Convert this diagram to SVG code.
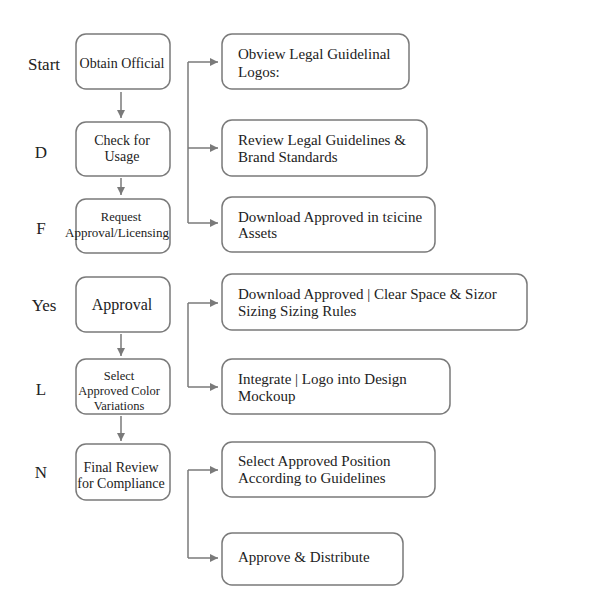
<svg xmlns="http://www.w3.org/2000/svg" width="600" height="600" viewBox="0 0 600 600">
<defs>
<marker id="ah" viewBox="0 0 10 10" refX="10" refY="5" markerWidth="5.5" markerHeight="5.5" orient="auto-start-reverse"><path d="M0,0 L10,5 L0,10 z" fill="#7a7a7a"/></marker>
<style>
.box{fill:#fff;stroke:#7a7a7a;stroke-width:1.5}
.t{font-family:"Liberation Serif","DejaVu Serif",serif;fill:#222}
.c{text-anchor:middle}
.lbl{font-family:"Liberation Serif","DejaVu Serif",serif;fill:#222;font-size:17px;text-anchor:middle}
.ln{fill:none;stroke:#7a7a7a;stroke-width:1.5}
</style>
</defs>
<rect width="600" height="600" fill="#fff"/>
<g id="labels">
<text class="lbl" x="44" y="70">Start</text>
<text class="lbl" x="41" y="158">D</text>
<text class="lbl" x="41" y="234">F</text>
<text class="lbl" x="44" y="311">Yes</text>
<text class="lbl" x="41" y="395">L</text>
<text class="lbl" x="41" y="478">N</text>
</g>
<g id="connectors">
<path class="ln" marker-end="url(#ah)" d="M121,92 L121,118"/>
<path class="ln" marker-end="url(#ah)" d="M121,178 L121,195"/>
<path class="ln" marker-end="url(#ah)" d="M121,334 L121,356"/>
<path class="ln" marker-end="url(#ah)" d="M121,416 L121,441"/>
<path class="ln" d="M188,62 L188,223"/>
<path class="ln" marker-end="url(#ah)" d="M188,62 L218,62"/>
<path class="ln" marker-end="url(#ah)" d="M188,148 L218,148"/>
<path class="ln" marker-end="url(#ah)" d="M188,223 L218,223"/>
<path class="ln" d="M188,303 L188,387"/>
<path class="ln" marker-end="url(#ah)" d="M188,303 L218,303"/>
<path class="ln" marker-end="url(#ah)" d="M188,387 L218,387"/>
<path class="ln" d="M188,470 L188,558"/>
<path class="ln" marker-end="url(#ah)" d="M188,470 L218,470"/>
<path class="ln" marker-end="url(#ah)" d="M188,558 L218,558"/>
</g>
<g id="n1"><rect class="box" x="76" y="34" width="94" height="55" rx="10"/><text class="t c" x="122" y="68" font-size="14">Obtain Official</text></g>
<g id="n2"><rect class="box" x="76" y="122" width="94" height="54" rx="10"/><text class="t c" x="122" y="145" font-size="14">Check for</text><text class="t c" x="122" y="161" font-size="14">Usage</text></g>
<g id="n3"><rect class="box" x="76" y="199" width="94" height="54" rx="10"/><text class="t c" x="121" y="221" font-size="12.5">Request</text><text class="t c" x="117" y="237" font-size="13">Approval/Licensing</text></g>
<g id="n4"><rect class="box" x="76" y="277" width="94" height="55" rx="10"/><text class="t c" x="122" y="310" font-size="16">Approval</text></g>
<g id="n5"><rect class="box" x="76" y="359" width="94" height="55" rx="10"/><text class="t c" x="119" y="380" font-size="12.5">Select</text><text class="t c" x="119" y="395" font-size="12.5">Approved Color</text><text class="t c" x="119" y="410" font-size="12.5">Variations</text></g>
<g id="n6"><rect class="box" x="76" y="444" width="94" height="56" rx="10"/><text class="t c" x="121" y="472" font-size="14">Final Review</text><text class="t c" x="121" y="488" font-size="14">for Compliance</text></g>
<g id="r1"><rect class="box" x="222" y="34" width="187" height="55" rx="10"/><text class="t" x="238" y="59" font-size="15">Obview Legal Guidelinal</text><text class="t" x="238" y="77" font-size="15">Logos:</text></g>
<g id="r2"><rect class="box" x="222" y="120" width="205" height="56" rx="10"/><text class="t" x="238" y="145" font-size="15">Review Legal Guidelines &amp;</text><text class="t" x="238" y="162" font-size="15">Brand Standards</text></g>
<g id="r3"><rect class="box" x="222" y="197" width="213" height="55" rx="10"/><text class="t" x="238" y="222" font-size="15">Download Approved in tɛicine</text><text class="t" x="238" y="238" font-size="15">Assets</text></g>
<g id="r4"><rect class="box" x="222" y="274" width="305" height="56" rx="10"/><text class="t" x="238" y="299" font-size="15">Download Approved | Clear Space &amp; Sizor</text><text class="t" x="238" y="316" font-size="15">Sizing Sizing Rules</text></g>
<g id="r5"><rect class="box" x="222" y="359" width="228" height="55" rx="10"/><text class="t" x="238" y="384" font-size="15">Integrate | Logo into Design</text><text class="t" x="238" y="401" font-size="15">Mockoup</text></g>
<g id="r6"><rect class="box" x="222" y="442" width="213" height="55" rx="10"/><text class="t" x="238" y="466" font-size="15">Select Approved Position</text><text class="t" x="238" y="483" font-size="15">According to Guidelines</text></g>
<g id="r7"><rect class="box" x="222" y="533" width="181" height="52" rx="10"/><text class="t" x="238" y="562" font-size="15">Approve &amp; Distribute</text></g>
</svg>
